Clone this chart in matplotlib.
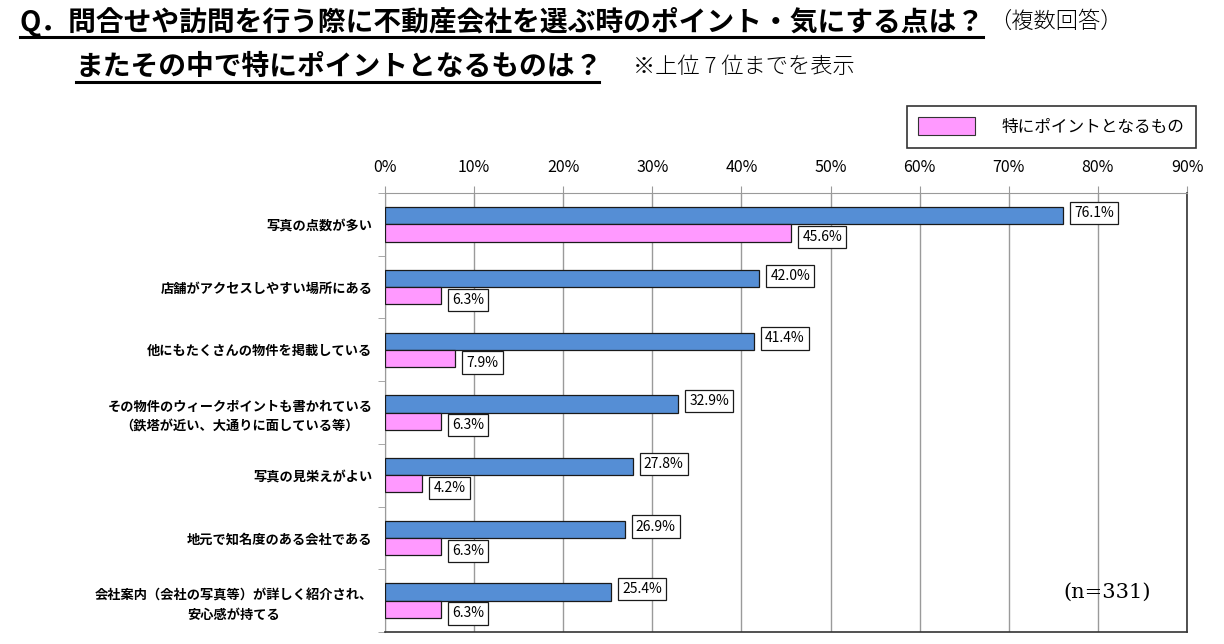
import numpy as np
from matplotlib import pyplot as plt
from matplotlib.patches import Patch

plt.rcParams['font.family'] = ['Noto Sans CJK JP', 'DejaVu Sans']

# data
categories = [
	'写真の点数が多い',
	'店舗がアクセスしやすい場所にある',
	'他にもたくさんの物件を掲載している',
	'その物件のウィークポイントも書かれている\n（鉄塔が近い、大通りに面している等）',
	'写真の見栄えがよい',
	'地元で知名度のある会社である',
	'会社案内（会社の写真等）が詳しく紹介され、\n安心感が持てる',
]
all_points = [76.1, 42.0, 41.4, 32.9, 27.8, 26.9, 25.4]
key_points = [45.6, 6.3, 7.9, 6.3, 4.2, 6.3, 6.3]
x_ticks = list(range(0, 91, 10))

blue = '#558ED5'
pink = '#FF99FF'
grid_grey = '#9a9a9a'

fig = plt.figure(figsize=(12.24, 6.44), dpi=100)
ax = fig.add_axes([0.3145, 0.0186, 0.9698 - 0.3145, 0.7003 - 0.0186])

y = np.arange(len(categories))
h = 0.275
ax.barh(y - h / 2, all_points, height=h, color=blue, edgecolor='#1a1a1a', linewidth=0.9, zorder=3)
ax.barh(y + h / 2, key_points, height=h, color=pink, edgecolor='#1a1a1a', linewidth=0.9, zorder=3)

box = dict(boxstyle='square,pad=0.3', facecolor='white', edgecolor='#1a1a1a', linewidth=0.9)
for yi, v in zip(y, all_points):
	ax.annotate(f'{v:.1f}%', (v, yi - h / 2), xytext=(8, 2), textcoords='offset points',
				ha='left', va='center', fontsize=10, bbox=box, zorder=4)
for yi, v in zip(y, key_points):
	ax.annotate(f'{v:.1f}%', (v, yi + h / 2), xytext=(8, -3), textcoords='offset points',
				ha='left', va='center', fontsize=10, bbox=box, zorder=4)

ax.set_xlim(0, 90)
ax.set_ylim(len(categories) - 0.5, -0.5)
ax.set_xticks(x_ticks)
ax.set_xticklabels([f'{t}%' for t in x_ticks], fontsize=11.5)
ax.xaxis.tick_top()
ax.tick_params(axis='x', direction='out', length=5, color=grid_grey, pad=7)
ax.grid(axis='x', color=grid_grey, linewidth=1.0, zorder=0)

ax.set_yticks(y)
ax.set_yticklabels(categories, fontsize=9.5, fontweight='bold', ha='right',
				   multialignment='center', linespacing=1.5)
ax.tick_params(axis='y', length=0, pad=9)
ax.set_yticks(np.arange(-0.5, len(categories), 1), minor=True)
ax.tick_params(axis='y', which='minor', length=5, color=grid_grey, direction='out')

for side in ['top', 'left']:
	ax.spines[side].set_color(grid_grey)
for side in ['right', 'bottom']:
	ax.spines[side].set_color('#333333')
	ax.spines[side].set_linewidth(1.2)

ax.text(0.955, 0.09, '(n=331)', transform=ax.transAxes, ha='right', va='center',
		fontsize=15, family=['DejaVu Serif'])

# legend shows only the highlighted series
leg = fig.legend(handles=[Patch(facecolor=pink, edgecolor='#333333', linewidth=0.8)],
				 labels=['特にポイントとなるもの'], loc='upper right',
				 bbox_to_anchor=(0.984, 0.849), fontsize=12, frameon=True, fancybox=False,
				 edgecolor='black', handlelength=3.4, handleheight=1.3, borderpad=0.7,
				 handletextpad=1.6)
leg.get_frame().set_linewidth(1.2)

# heading
fig.text(0.016, 0.966, 'Q．問合せや訪問を行う際に不動産会社を選ぶ時のポイント・気にする点は？',
		 fontsize=20, fontweight='bold', va='center', ha='left')
fig.text(0.808, 0.966, '（複数回答）', fontsize=16, fontweight='light', va='center', ha='left')
fig.text(0.062, 0.896, 'またその中で特にポイントとなるものは？',
		 fontsize=20, fontweight='bold', va='center', ha='left')
fig.text(0.517, 0.896, '※上位 7 位までを表示', fontsize=16, fontweight='light', va='center', ha='left')
fig.add_artist(plt.Line2D([0.016, 0.803], [0.9425, 0.9425], color='black', linewidth=2.2))
fig.add_artist(plt.Line2D([0.062, 0.489], [0.8727, 0.8727], color='black', linewidth=2.2))

fig.savefig('out.png', dpi=100)
